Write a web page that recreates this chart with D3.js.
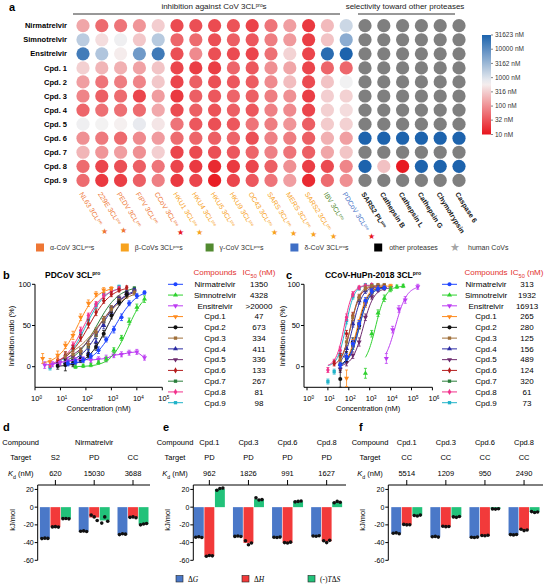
<!DOCTYPE html>
<html>
<head>
<meta charset="utf-8">
<script src="https://cdn.jsdelivr.net/npm/d3@7"></script>
<style>
  body { margin: 0; background: #fff; }
  svg { display: block; font-family: Arial, "Liberation Sans", sans-serif; }
</style>
</head>
<body>
<svg id="chart" width="546" height="585"></svg>
<script>
// ---- panel a: IC50 heat map (nM) ----
const compoundsA = ['Nirmatrelvir', 'Simnotrelvir', 'Ensitrelvir', 'Cpd. 1', 'Cpd. 2', 'Cpd. 3',
  'Cpd. 4', 'Cpd. 5', 'Cpd. 6', 'Cpd. 7', 'Cpd. 8', 'Cpd. 9'];
const covTargets = ['NL63', '229E', 'PEDV', 'FIPV', 'CCoV', 'HKU1', 'HKU4', 'HKU5', 'HKU9',
  'OC43', 'SARS', 'MERS', 'SARS2', 'IBV', 'PDCoV'];
const covGenus = ['alpha', 'alpha', 'alpha', 'alpha', 'alpha', 'beta', 'beta', 'beta', 'beta',
  'beta', 'beta', 'beta', 'beta', 'gamma', 'delta'];
const humanCoV = [1, 1, 0, 0, 2, 1, 0, 0, 0, 1, 1, 1, 1, 0, 2]; // 2 = red star
const otherTargets = ['SARS2 PL', 'Cathepsin B', 'Cathepsin L', 'Cathepsin G', 'Chymotrypsin', 'Caspase 6'];
const covIC50 = [
  [150, 50, 60, 110, 313, 28, 30, 28, 32, 24, 60, 130, 20, 220, 1350],
  [1800, 420, 700, 280, 1932, 45, 50, 30, 40, 35, 70, 120, 22, 260, 4328],
  [16000, 2200, 550, 7000, 16913, 30, 90, 30, 28, 25, 55, 350, 25, 25000, 31623],
  [330, 200, 180, 140, 265, 25, 22, 22, 45, 35, 100, 150, 25, 45, 47],
  [130, 60, 70, 80, 280, 25, 40, 30, 35, 38, 90, 230, 28, 260, 673],
  [80, 40, 50, 25, 125, 20, 40, 35, 45, 40, 70, 100, 22, 320, 334],
  [45, 55, 55, 50, 156, 28, 40, 32, 40, 35, 75, 90, 25, 330, 411],
  [700, 650, 600, 800, 489, 60, 35, 30, 35, 60, 70, 110, 40, 300, 336],
  [100, 65, 50, 90, 124, 50, 45, 40, 45, 30, 75, 70, 40, 180, 133],
  [200, 110, 130, 100, 320, 25, 28, 30, 35, 45, 75, 60, 40, 150, 267],
  [50, 25, 30, 40, 61, 25, 20, 15, 20, 25, 40, 100, 22, 28, 81],
  [50, 20, 22, 40, 73, 20, 25, 12, 25, 35, 60, 130, 15, 50, 98]
];
const otherIC50 = [
  [null, null, null, null, null, null], [null, null, null, null, null, null],
  [null, null, null, null, null, null], [null, null, null, null, null, null],
  [null, null, null, null, null, null], [null, null, null, null, null, null],
  [null, null, null, null, null, null], [null, null, null, null, null, null],
  [31623, 31623, 31623, 31623, 31623, 31623], [null, null, null, null, null, null],
  [31623, 250, 11, 31623, 31623, 31623], [null, null, null, null, null, null]
];
const colorTicks = [10, 32, 100, 316, 1000, 3162, 10000, 31623];
const genusNames = ['alpha', 'beta', 'gamma', 'delta'];
const genusLabels = ['α-CoV 3CL', 'β-CoVs 3CL', 'γ-CoV 3CL', 'δ-CoV 3CL'];

// ---- panels b, c: dose response ----
const drugNames = ['Nirmatrelvir', 'Simnotrelvir', 'Ensitrelvir', 'Cpd.1', 'Cpd.2', 'Cpd.3',
  'Cpd.4', 'Cpd.5', 'Cpd.6', 'Cpd.7', 'Cpd.8', 'Cpd.9'];
const drugColors = ['#1f45ff', '#2fd12f', '#bd3cf2', '#ff8a1c', '#111111', '#a0703a',
  '#2b2ba3', '#6d2a6d', '#b51d1d', '#2a7d3a', '#f2328c', '#20b3c9'];
const drugSymbols = ['circle', 'triangle', 'down', 'down', 'circle', 'square',
  'triangle', 'down', 'diamond', 'square', 'diamond', 'square'];

const bIC50Text = ['1350', '4328', '>20000', '47', '673', '334', '411', '336', '133', '267', '81', '98'];
const bIC50 = [1350, 4328, null, 47, 673, 334, 411, 336, 133, 267, 81, 98];
const bHill = [1.0, 1.3, null, 1.15, 1.1, 0.8, 1.0, 0.85, 1.0, 1.0, 1.1, 1.1];
const bTop = [95, 92, null, 97, 96, 94, 96, 96, 98, 98, 97, 98];
const bBottom = [2, 0, null, 2, 0, 8, 2, 4, 2, 2, 0, 0];
const bConc = [
  [19.5, 39, 78, 156, 312, 625, 1250, 2500, 5000, 10000, 20000],
  [39, 78, 156, 312, 625, 1250, 2500, 5000, 10000, 20000],
  [2.4, 4.9, 9.8, 19.5, 39, 78, 156, 312, 625, 1250, 2500, 5000, 10000, 20000],
  [2, 3.9, 7.8, 15.6, 31, 62, 125, 250, 500, 1000],
  [7.8, 15.6, 31, 62, 125, 250, 500, 1000, 2000, 4000],
  [15.6, 31, 62, 125, 250, 500, 1000, 2000, 4000, 8000],
  [15.6, 31, 62, 125, 250, 500, 1000, 2000, 4000, 8000],
  [15.6, 31, 62, 125, 250, 500, 1000, 2000, 4000, 8000],
  [7.8, 15.6, 31, 62, 125, 250, 500, 1000, 2000, 4000],
  [15.6, 31, 62, 125, 250, 500, 1000, 2000, 4000, 8000],
  [3.9, 7.8, 15.6, 31, 62, 125, 250, 500, 1000, 2000],
  [3.9, 7.8, 15.6, 31, 62, 125, 250, 500, 1000, 2000]
];
const bInh = [
  [4, 6, 8, 13, 20, 33, 45, 60, 77, 86, 90],
  [0, 1, 2, 5, 9, 20, 35, 55, 72, 82],
  [2, 3, 5, 7, 8, 9, 8, 9, 10, 14, 15, 17, 18, 11],
  [10, 6, 14, 26, 38, 60, 77, 88, 93, 95],
  [1, 2, 4, 8, 14, 24, 40, 62, 78, 88],
  [12, 15, 19, 27, 42, 57, 70, 80, 86, 90],
  [5, 8, 11, 17, 30, 50, 66, 81, 89, 93],
  [9, 12, 18, 27, 41, 57, 71, 83, 89, 92],
  [8, 14, 22, 35, 52, 66, 80, 88, 93, 96],
  [6, 10, 16, 24, 38, 55, 70, 82, 90, 95],
  [2, 6, 14, 26, 44, 62, 76, 86, 92, 95],
  [-1, 3, 10, 22, 40, 57, 74, 88, 94, 97]
];
const bErr = [
  [3, 3, 3, 3, 4, 3, 4, 4, 3, 3, 2],
  [2, 2, 2, 2, 3, 3, 3, 4, 4, 4],
  [4, 3, 3, 4, 3, 3, 3, 3, 4, 3, 3, 3, 3, 3],
  [6, 4, 5, 4, 5, 4, 4, 3, 3, 2],
  [4, 7, 4, 3, 3, 4, 4, 4, 3, 3],
  [6, 5, 4, 4, 5, 4, 4, 3, 3, 3],
  [4, 6, 4, 4, 4, 4, 4, 3, 3, 2],
  [5, 4, 4, 4, 4, 4, 3, 3, 3, 2],
  [4, 4, 4, 4, 5, 4, 3, 3, 2, 2],
  [3, 4, 4, 4, 4, 4, 3, 3, 3, 2],
  [3, 3, 4, 4, 4, 3, 3, 3, 2, 2],
  [3, 3, 3, 3, 3, 3, 3, 2, 2, 2]
];

const cIC50Text = ['313', '1932', '16913', '265', '280', '125', '156', '489', '124', '320', '61', '73'];
const cIC50 = [313, 1932, 16913, 265, 280, 125, 156, 489, 124, 320, 61, 73];
const cHill = [1.8, 1.8, 1.6, 1.8, 1.8, 2.0, 1.9, 1.7, 1.9, 1.8, 2.2, 2.2];
const cTop = [96, 98, 98, 98, 97, 99, 97, 96, 98, 96, 99, 99];
const cBottom = [0, 0, 0, 0, 0, 0, 0, 0, 0, 0, 0, 0];
const cConc = [
  [39, 78, 156, 312, 625, 1250, 2500, 5000],
  [625, 1250, 2500, 5000, 10000, 20000, 40000],
  [6250, 12500, 25000, 50000, 200000],
  [78, 156, 312, 625, 1250, 2500, 5000, 10000],
  [39, 78, 156, 312, 625, 1250, 2500, 5000],
  [39, 78, 156, 312, 625, 1250, 2500, 5000],
  [39, 78, 156, 312, 625, 1250, 2500, 5000],
  [39, 78, 156, 312, 625, 1250, 2500, 5000, 10000],
  [20, 39, 78, 156, 312, 625, 1250, 2500],
  [39, 78, 156, 312, 625, 1250, 2500, 5000],
  [10, 20, 39, 78, 156, 312, 625, 1250],
  [10, 20, 39, 78, 156, 312, 625, 1250]
];
const cInh = [
  [2, 12, 28, 52, 80, 92, 95, 96],
  [-8, 40, 65, 83, 94, 97, 98],
  [10, 45, 70, 81, 97],
  [-14, 28, 52, 76, 92, 96, 97, 98],
  [-15, 12, 30, 50, 78, 92, 96, 97],
  [8, 30, 60, 84, 95, 98, 99, 99],
  [3, 22, 52, 80, 92, 96, 97, 97],
  [-3, 5, 14, 30, 60, 85, 93, 95, 96],
  [4, 12, 40, 62, 84, 94, 97, 98],
  [3, 10, 25, 50, 78, 90, 95, 96],
  [-4, 6, 20, 60, 88, 96, 98, 99],
  [-18, -6, 15, 56, 85, 95, 99, 99]
];
const cErr = [
  [3, 4, 4, 4, 4, 3, 3, 2],
  [6, 4, 4, 4, 3, 2, 2],
  [6, 4, 4, 4, 3],
  [10, 5, 5, 4, 3, 2, 2, 2],
  [10, 6, 5, 4, 4, 3, 2, 2],
  [4, 4, 4, 4, 3, 2, 2, 2],
  [5, 4, 4, 4, 3, 2, 2, 2],
  [4, 4, 4, 5, 4, 3, 2, 2, 2],
  [3, 4, 4, 4, 3, 2, 2, 2],
  [4, 4, 4, 4, 3, 3, 2, 2],
  [3, 3, 4, 4, 3, 2, 2, 2],
  [3, 3, 4, 4, 3, 2, 2, 2]
];

// ---- panels d, e, f: ITC thermodynamics (kJ/mol), replicates of dG, dH, -TdS ----
const dCompounds = ['Nirmatrelvir'];
const dTargets = ['S2', 'PD', 'CC'];
const dKd = ['620', '15030', '3688'];
const dThermo = [
  [[-35.5, -35, -35.3], [-22.3, -22, -22.5], [-13, -12.8, -13.2]],
  [[-27.2, -26.8, -27.5], [-9, -11, -15], [-18, -11, -16]],
  [[-31, -30, -30.5], [-11.5, -11, -12], [-20, -19, -18.5]]
];
const eCompounds = ['Cpd.1', 'Cpd.3', 'Cpd.6', 'Cpd.8'];
const eTargets = ['PD', 'PD', 'PD', 'PD'];
const eKd = ['962', '1826', '991', '1627'];
const eThermo = [
  [[-34, -33.5, -34.2], [-55.5, -54.5, -55], [19, 21, 21.5]],
  [[-33, -32.5, -33.2], [-38, -42.5, -40.5], [10.5, 8, 8.5]],
  [[-34, -34.2, -33.8], [-40, -40.5, -39.5], [6, 6.5, 7]],
  [[-32.5, -32.8, -32.3], [-38, -40, -37.5], [5, 6.5, 5.5]]
];
const fCompounds = ['Cpd.1', 'Cpd.3', 'Cpd.6', 'Cpd.8'];
const fTargets = ['CC', 'CC', 'CC', 'CC'];
const fKd = ['5514', '1209', '950', '2490'];
const fThermo = [
  [[-29.5, -29, -30], [-19.5, -20, -19.8], [-9.5, -10, -9]],
  [[-33.5, -33, -33.8], [-21.5, -22, -21.8], [-11, -11.5, -10.5]],
  [[-34, -34.3, -33.8], [-32, -32.3, -31.8], [-2, -2.2, -1.8]],
  [[-31, -31.3, -30.8], [-25, -26.5, -25.8], [-5, -6, -5.5]]
];
const thermoColors = ['#4a78c8', '#f23a3a', '#22c27a'];

const svg = d3.select('#chart');
svg.append('rect').attr('width', 546).attr('height', 585).attr('fill', '#fff');

// text helper: parts = [text, 'sup'|'sub'|null, italic]
function rich(sel, parts) {
  parts.forEach(([t, kind, it]) => {
    const ts = sel.append('tspan').text(t);
    if (kind === 'sup') ts.attr('baseline-shift', 'super').attr('font-size', '0.6em');
    if (kind === 'sub') ts.attr('baseline-shift', 'sub').attr('font-size', '0.7em');
    if (it) ts.attr('font-style', 'italic');
  });
  return sel;
}

function panelLabel(t, x, y) {
  svg.append('text').attr('x', x).attr('y', y).attr('font-size', 11)
    .attr('font-weight', 'bold').text(t);
}

// ================= panel a =================
const genusColor = { alpha: '#ee7634', beta: '#f7a21e', gamma: '#528a30', delta: '#3f6fc6' };

function drawHeatmap() {
  const g = svg.append('g');
  const allTargets = covTargets.concat(otherTargets);
  const xA = d3.scalePoint().domain(d3.range(allTargets.length)).range([83, 459]);
  const yA = d3.scalePoint().domain(compoundsA).range([25.7, 180.4]);
  const heat = d3.scaleLinear().domain([1, 2.8, 4.5])
    .range(['#e8141c', '#f5f3f3', '#1d63ad']).clamp(true);

  const cells = compoundsA.flatMap((c, r) =>
    covIC50[r].concat(otherIC50[r]).map((v, i) => ({ c, i, v })));
  g.selectAll('circle').data(cells).join('circle')
    .attr('cx', d => xA(d.i))
    .attr('cy', d => yA(d.c))
    .attr('r', 6.6)
    .attr('fill', d => d.v == null ? '#7f7f7f' : heat(Math.log10(d.v)));

  g.selectAll('.rowlab').data(compoundsA).join('text')
    .attr('x', 67).attr('y', d => yA(d)).attr('dy', '0.35em')
    .attr('text-anchor', 'end').attr('font-size', 7.5).attr('font-weight', 'bold')
    .text(d => d);

  // headers
  rich(g.append('text').attr('x', 214).attr('y', 9).attr('text-anchor', 'middle')
    .attr('font-size', 8).attr('fill', '#222'),
    [['inhibition against CoV 3CL'], ['pro', 'sup'], ['s']]);
  g.append('line').attr('x1', 73).attr('x2', 340).attr('y1', 14).attr('y2', 14)
    .attr('stroke', '#333').attr('stroke-width', 1);
  g.append('text').attr('x', 405).attr('y', 9).attr('text-anchor', 'middle')
    .attr('font-size', 8).attr('fill', '#222').text('selectivity toward other proteases');
  g.append('line').attr('x1', 358).attr('x2', 455).attr('y1', 14).attr('y2', 14)
    .attr('stroke', '#333').attr('stroke-width', 1);

  // column labels
  const angle = 58, rad = angle * Math.PI / 180;
  allTargets.forEach((t, i) => {
    const isCov = i < covTargets.length;
    const col = isCov ? genusColor[covGenus[i]] : '#111';
    const x0 = xA(i) - 4, y0 = 194;
    const txt = g.append('text')
      .attr('transform', `translate(${x0},${y0}) rotate(${angle})`)
      .attr('font-size', 7).attr('fill', col)
      .attr('font-weight', isCov ? 'normal' : 'bold');
    if (isCov) rich(txt, [[t + ' 3CL'], ['pro', 'sup']]);
    else if (i === covTargets.length) rich(txt, [[t], ['pro', 'sup']]);
    else txt.text(t);
    if (isCov && humanCoV[i]) {
      const L = txt.node().getComputedTextLength() + 7;
      g.append('text')
        .attr('x', x0 + L * Math.cos(rad) + 2).attr('y', y0 + L * Math.sin(rad) - 1)
        .attr('text-anchor', 'middle').attr('dy', '0.35em').attr('font-size', 8)
        .attr('fill', humanCoV[i] === 2 ? '#e8141c' : col).text('★');
    }
  });

  // colour bar
  const defs = svg.append('defs');
  const grad = defs.append('linearGradient').attr('id', 'cbar')
    .attr('x1', 0).attr('y1', 1).attr('x2', 0).attr('y2', 0);
  d3.range(0, 1.0001, 0.05).forEach(f => {
    grad.append('stop').attr('offset', f).attr('stop-color', heat(1 + 3.5 * f));
  });
  const yC = d3.scaleLog().domain([10, 31623]).range([134.5, 35]);
  g.append('rect').attr('x', 482).attr('y', yC(31623)).attr('width', 9)
    .attr('height', yC(10) - yC(31623)).attr('fill', 'url(#cbar)');
  g.selectAll('.ct').data(colorTicks).join('line')
    .attr('x1', 491).attr('x2', 493).attr('y1', d => yC(d)).attr('y2', d => yC(d))
    .attr('stroke', '#333').attr('stroke-width', 0.6);
  g.selectAll('.cl').data(colorTicks).join('text')
    .attr('x', 495).attr('y', d => yC(d)).attr('dy', '0.35em')
    .attr('font-size', 6.5).attr('fill', '#333').text(d => d + ' nM');

  // legend row
  const legX = d3.scalePoint().domain(d3.range(6)).range([36, 460]);
  genusNames.forEach((gn, k) => {
    g.append('rect').attr('x', legX(k)).attr('y', 243.5).attr('width', 8).attr('height', 8)
      .attr('fill', genusColor[gn]);
    rich(g.append('text').attr('x', legX(k) + 14).attr('y', 250).attr('font-size', 7)
      .attr('fill', '#333'), [[genusLabels[k]], ['pro', 'sup'], ['s']]);
  });
  g.append('rect').attr('x', legX(4) - 1).attr('y', 243.5).attr('width', 8).attr('height', 8)
    .attr('fill', '#000');
  g.append('text').attr('x', legX(4) + 14).attr('y', 250).attr('font-size', 7)
    .attr('fill', '#333').text('other proteases');
  g.append('text').attr('x', legX(5) - 5).attr('y', 247.5).attr('dy', '0.35em')
    .attr('text-anchor', 'middle').attr('font-size', 11).attr('fill', '#a6a6a6').text('★');
  g.append('text').attr('x', legX(5) + 8).attr('y', 250).attr('font-size', 7)
    .attr('fill', '#333').text('human CoVs');
}

// ================= panels b, c =================
function symbolPath(kind) {
  const types = { circle: d3.symbolCircle, triangle: d3.symbolTriangle, down: d3.symbolTriangle,
    square: d3.symbolSquare, diamond: d3.symbolDiamond };
  return d3.symbol().type(types[kind]).size(kind === 'circle' ? 13 : 11)();
}

function doseResponse(o) {
  const g = svg.append('g');
  const x = d3.scaleLog().domain(o.xDomain).range(o.xRange);
  const y = d3.scaleLinear().domain([-25, 100]).range([387.3, 284.3]);
  const xEnd = o.xRange[1];

  // axes
  g.append('line').attr('x1', o.yAxisX).attr('x2', o.yAxisX).attr('y1', y(100)).attr('y2', y(-25))
    .attr('stroke', '#000').attr('stroke-width', 1);
  g.append('line').attr('x1', o.yAxisX).attr('x2', xEnd).attr('y1', y(-25)).attr('y2', y(-25))
    .attr('stroke', '#000').attr('stroke-width', 1);
  const yTicks = [0, 50, 100];
  g.selectAll('.yt').data(yTicks).join('line')
    .attr('x1', o.yAxisX - 3).attr('x2', o.yAxisX).attr('y1', d => y(d)).attr('y2', d => y(d))
    .attr('stroke', '#000');
  g.selectAll('.yl').data(yTicks).join('text')
    .attr('x', o.yAxisX - 4).attr('y', d => y(d)).attr('dy', '0.35em')
    .attr('text-anchor', 'end').attr('font-size', 7.5).text(d => d);
  const decades = d3.range(0, Math.round(Math.log10(o.xDomain[1])) + 1);
  g.selectAll('.xt').data(decades).join('line')
    .attr('x1', d => x(10 ** d)).attr('x2', d => x(10 ** d))
    .attr('y1', y(-25)).attr('y2', y(-25) + 3).attr('stroke', '#000');
  decades.forEach(d => {
    rich(g.append('text').attr('x', x(10 ** d) + 1.5).attr('y', 401).attr('text-anchor', 'middle')
      .attr('font-size', 7.5), [['10'], [String(d), 'sup']]);
  });
  g.append('text').attr('x', (o.yAxisX + xEnd) / 2).attr('y', 411).attr('text-anchor', 'middle')
    .attr('font-size', 7.5).text('Concentration (nM)');
  g.append('text').attr('transform', `translate(${o.yLabelX},336) rotate(-90)`)
    .attr('text-anchor', 'middle').attr('font-size', 7.5).text('Inhibition ratio (%)');

  // title
  rich(g.append('text').attr('x', o.titleX).attr('y', 278).attr('text-anchor', o.titleAnchor)
    .attr('font-size', 8.5).attr('font-weight', 'bold'), [[o.title + ' 3CL'], ['pro', 'sup']]);

  // series
  const line = d3.line().x(d => x(d[0])).y(d => y(d[1]));
  d3.range(drugNames.length).reverse().forEach(i => {
    const col = drugColors[i];
    const pts = o.conc[i].map((c, j) => ({ c, v: o.inh[i][j], e: o.err[i][j] }));
    const lo = Math.log10(d3.min(o.conc[i])), hi = Math.log10(d3.max(o.conc[i]));
    if (o.ic50[i] != null) {
      const fit = d3.range(0, 61).map(k => {
        const c = 10 ** (lo + (hi - lo) * k / 60);
        return [c, o.bottom[i] + (o.top[i] - o.bottom[i]) / (1 + (o.ic50[i] / c) ** o.hill[i])];
      });
      g.append('path').attr('d', line(fit)).attr('fill', 'none')
        .attr('stroke', col).attr('stroke-width', 1);
    } else {
      g.append('path').attr('d', line(pts.map(p => [p.c, p.v]))).attr('fill', 'none')
        .attr('stroke', col).attr('stroke-width', 1);
    }
    const eg = g.append('g').attr('stroke', col).attr('stroke-width', 0.8);
    pts.forEach(p => {
      const px = x(p.c);
      eg.append('line').attr('x1', px).attr('x2', px).attr('y1', y(p.v - p.e)).attr('y2', y(p.v + p.e));
      eg.append('line').attr('x1', px - 1.5).attr('x2', px + 1.5).attr('y1', y(p.v - p.e)).attr('y2', y(p.v - p.e));
      eg.append('line').attr('x1', px - 1.5).attr('x2', px + 1.5).attr('y1', y(p.v + p.e)).attr('y2', y(p.v + p.e));
    });
    g.selectAll(null).data(pts).join('path')
      .attr('d', symbolPath(drugSymbols[i]))
      .attr('transform', p => `translate(${x(p.c)},${y(p.v)})${drugSymbols[i] === 'down' ? ' rotate(180)' : ''}`)
      .attr('fill', col);
  });

  // legend
  const ly = d3.scalePoint().domain(drugNames).range([284.3, 402.7]);
  const red = '#e2302d';
  g.append('text').attr('x', o.legName).attr('y', 275).attr('text-anchor', 'middle')
    .attr('font-size', 8).attr('fill', red).text('Compounds');
  rich(g.append('text').attr('x', o.legVal).attr('y', 275).attr('text-anchor', 'middle')
    .attr('font-size', 8).attr('fill', red), [['IC'], ['50', 'sub'], [' (nM)']]);
  drugNames.forEach((nm, i) => {
    const yy = ly(nm);
    g.append('line').attr('x1', o.legLine).attr('x2', o.legLine + 15).attr('y1', yy).attr('y2', yy)
      .attr('stroke', drugColors[i]).attr('stroke-width', 1);
    g.append('path').attr('d', symbolPath(drugSymbols[i]))
      .attr('transform', `translate(${o.legLine + 7.5},${yy})${drugSymbols[i] === 'down' ? ' rotate(180)' : ''}`)
      .attr('fill', drugColors[i]);
    g.append('text').attr('x', o.legName).attr('y', yy).attr('dy', '0.35em').attr('text-anchor', 'middle')
      .attr('font-size', 8).text(nm);
    g.append('text').attr('x', o.legVal).attr('y', yy).attr('dy', '0.35em').attr('text-anchor', 'middle')
      .attr('font-size', 8).text(o.ic50Text[i]);
  });
}

// ================= panels d, e, f =================
function itc(o) {
  const g = svg.append('g');
  const band = d3.scaleBand().domain(d3.range(o.targets.length)).range(o.range);
  const sub = d3.scaleBand().domain([0, 1, 2]).range([-15.5, 15.5]).paddingInner(0.06);
  const rep = d3.scalePoint().domain([0, 1, 2]).range([-3, 3]);
  const y = d3.scaleLinear().domain([-60, 25]).range([560.3, 485]);
  const cx = i => band(i) + band.bandwidth() / 2;

  // header rows
  const fs = 7.5;
  g.append('text').attr('x', o.headX).attr('y', 445).attr('text-anchor', 'middle').attr('font-size', fs).text('Compound');
  g.append('text').attr('x', o.headX).attr('y', 460).attr('text-anchor', 'middle').attr('font-size', fs).text('Target');
  rich(g.append('text').attr('x', o.headX).attr('y', 475.5).attr('text-anchor', 'middle').attr('font-size', fs),
    [['K', null, true], ['d', 'sub'], [' (nM)']]);
  if (o.compounds.length === 1) {
    g.append('text').attr('x', (cx(0) + cx(o.targets.length - 1)) / 2).attr('y', 445)
      .attr('text-anchor', 'middle').attr('font-size', fs).text(o.compounds[0]);
  } else {
    o.compounds.forEach((c, i) => g.append('text').attr('x', cx(i)).attr('y', 445)
      .attr('text-anchor', 'middle').attr('font-size', fs).text(c));
  }
  o.targets.forEach((t, i) => {
    g.append('text').attr('x', cx(i)).attr('y', 460).attr('text-anchor', 'middle').attr('font-size', fs).text(t);
    g.append('text').attr('x', cx(i)).attr('y', 475.5).attr('text-anchor', 'middle').attr('font-size', fs).text(o.kd[i]);
  });

  // axes
  g.append('line').attr('x1', o.axisX).attr('x2', o.axisEnd).attr('y1', y(25)).attr('y2', y(25)).attr('stroke', '#000');
  g.append('line').attr('x1', o.axisX).attr('x2', o.axisX).attr('y1', y(25)).attr('y2', y(-60)).attr('stroke', '#000');
  o.targets.forEach((t, i) => g.append('line').attr('x1', cx(i)).attr('x2', cx(i))
    .attr('y1', y(25)).attr('y2', y(25) - 5).attr('stroke', '#000'));
  const ticks = [20, 0, -20, -40, -60];
  g.selectAll('.t').data(ticks).join('line')
    .attr('x1', o.axisX - 3).attr('x2', o.axisX).attr('y1', d => y(d)).attr('y2', d => y(d)).attr('stroke', '#000');
  g.selectAll('.tl').data(ticks).join('text')
    .attr('x', o.axisX - 4).attr('y', d => y(d)).attr('dy', '0.35em').attr('text-anchor', 'end')
    .attr('font-size', 7).text(d => d);
  g.append('text').attr('transform', `translate(${o.axisX - 23},520) rotate(-90)`)
    .attr('text-anchor', 'middle').attr('font-size', 7.5).text('kJ/mol');

  // bars + replicates
  o.thermo.forEach((grp, i) => {
    grp.forEach((reps, k) => {
      const m = d3.mean(reps);
      const bx = cx(i) + sub(k);
      g.append('rect').attr('x', bx).attr('width', sub.bandwidth())
        .attr('y', Math.min(y(0), y(m))).attr('height', Math.abs(y(m) - y(0)))
        .attr('fill', thermoColors[k]);
      reps.forEach((r, j) => g.append('circle')
        .attr('cx', bx + sub.bandwidth() / 2 + rep(j)).attr('cy', y(r)).attr('r', 1.8).attr('fill', '#111'));
    });
  });
}

drawHeatmap();
panelLabel('a', 9, 11);

panelLabel('b', 3, 279);
doseResponse({ xDomain: [1, 1e5], xRange: [35, 162.3], yAxisX: 35, yLabelX: 14,
  title: 'PDCoV', titleX: 45, titleAnchor: 'start',
  conc: bConc, inh: bInh, err: bErr, ic50: bIC50, hill: bHill, top: bTop, bottom: bBottom,
  ic50Text: bIC50Text, legLine: 168, legName: 215, legVal: 259 });

panelLabel('c', 286, 279);
doseResponse({ xDomain: [1, 1e6], xRange: [307, 432.4], yAxisX: 304, yLabelX: 285,
  title: 'CCoV-HuPn-2018', titleX: 373, titleAnchor: 'middle',
  conc: cConc, inh: cInh, err: cErr, ic50: cIC50, hill: cHill, top: cTop, bottom: cBottom,
  ic50Text: cIC50Text, legLine: 442, legName: 486, legVal: 527 });

panelLabel('d', 3, 431);
itc({ compounds: dCompounds, targets: dTargets, kd: dKd, thermo: dThermo,
  range: [36, 152.4], axisX: 37.7, axisEnd: 150, headX: 20.7 });
panelLabel('e', 163, 431);
itc({ compounds: eCompounds, targets: eTargets, kd: eKd, thermo: eThermo,
  range: [189.8, 346.2], axisX: 193.3, axisEnd: 346, headX: 175 });
panelLabel('f', 359, 431);
itc({ compounds: fCompounds, targets: fTargets, kd: fKd, thermo: fThermo,
  range: [387.2, 543.6], axisX: 388.3, axisEnd: 543, headX: 370 });

// thermodynamic legend
const thermoLabels = [[['Δ'], ['G', null, true]], [['Δ'], ['H', null, true]], [['(-)'], ['T', null, true], ['Δ'], ['S', null, true]]];
const legTx = d3.scalePoint().domain([0, 1, 2]).range([176, 308]);
thermoLabels.forEach((parts, k) => {
  svg.append('rect').attr('x', legTx(k)).attr('y', 575.5).attr('width', 7).attr('height', 6.5)
    .attr('fill', thermoColors[k]).attr('stroke', '#222').attr('stroke-width', 0.6);
  rich(svg.append('text').attr('x', legTx(k) + 12).attr('y', 581.5).attr('font-size', 7.5)
    .attr('font-family', '"Liberation Serif", "Times New Roman", serif'), parts);
});
</script>
</body>
</html>
